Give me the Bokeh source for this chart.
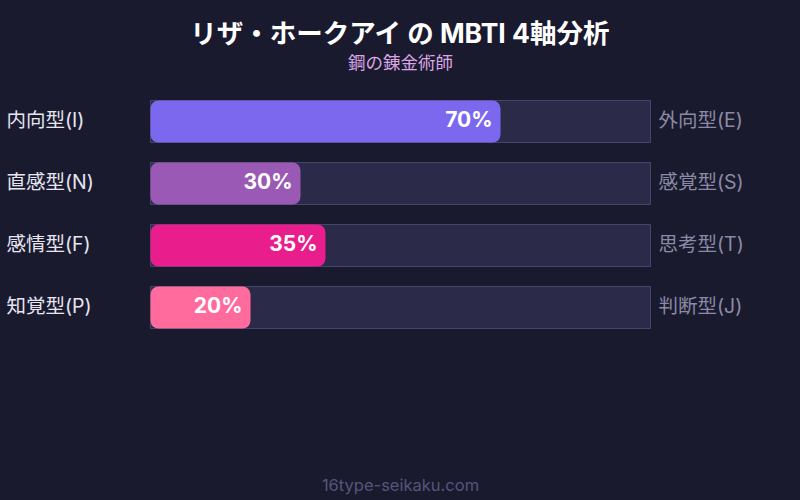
from bokeh.plotting import figure
from bokeh.models import Range1d, ColumnDataSource, Label
from bokeh.core.properties import value
from bokeh.embed import file_html
from bokeh.resources import INLINE

# ---- data ----
left_labels = ["内向型(I)", "直感型(N)", "感情型(F)", "知覚型(P)"]
right_labels = ["外向型(E)", "感覚型(S)", "思考型(T)", "判断型(J)"]
values = [70, 30, 35, 20]
bar_colors = ["#7b68ee", "#9b59b6", "#e91e8c", "#ff6b9d"]
title_text = "リザ・ホークアイ の MBTI 4軸分析"
subtitle_text = "鋼の錬金術師"
footer_text = "16type-seikaku.com"

BG = "#1a1a2e"
FONT = "Inter, 'Noto Sans CJK JP', sans-serif"

rows = list(range(len(values)))
W, H = 800, 500
# x: percent units, 5 px per percent, 0% at page x=150
x0 = (0 - 150) / 5.0
x1 = x0 + W / 5.0
# y: row units, 62 px per row, row 0 centre at page y=121
y_top = (0 - 121) / 62.0
y_bot = y_top + H / 62.0

p = figure(width=W, height=H, output_backend="svg", toolbar_location=None,
           x_range=Range1d(x0, x1), y_range=Range1d(y_bot, y_top),
           min_border=0, background_fill_color=BG, border_fill_color=BG,
           outline_line_color=None)
p.axis.visible = False
p.grid.visible = False

src = ColumnDataSource(dict(
    y=rows, v=values, color=bar_colors,
    full=[100] * len(values),
    left=left_labels, right=right_labels,
    pct=[f"{v}%" for v in values],
))

bh = 42 / 62.0
# track
p.hbar(y="y", left=0, right="full", height=bh, source=src,
       fill_color="#2b2a48", line_color="#45446a", line_width=1)
# value bars
p.hbar(y="y", left=0, right="v", height=bh, source=src,
       fill_color="color", line_color=None, border_radius=8)

# percent labels
p.text(x="v", y="y", text="pct", source=src, x_offset=-8, y_offset=-2,
       text_align="right", text_baseline="middle", text_color="#ffffff",
       text_font=value(FONT), text_font_size="21px", text_font_style="bold")

# left labels
p.text(x=(6 - 150) / 5.0, y="y", text="left", source=src, y_offset=-2,
       text_align="left", text_baseline="middle", text_color="#e6e6f2",
       text_font=value(FONT), text_font_size="19.5px")
# right labels
p.text(x=101.6, y="y", text="right", source=src, y_offset=-2,
       text_align="left", text_baseline="middle", text_color="#8a8aa6",
       text_font=value(FONT), text_font_size="19.5px")

mid = 50
p.add_layout(Label(x=mid, y=(32 - 121) / 62.0, text=title_text,
                   text_align="center", text_baseline="middle",
                   text_color="#ffffff", text_font=FONT,
                   text_font_size="26.5px", text_font_style="bold"))
p.add_layout(Label(x=mid, y=(62 - 121) / 62.0, text=subtitle_text,
                   text_align="center", text_baseline="middle",
                   text_color="#d9a6e6", text_font=FONT,
                   text_font_size="17.5px"))
p.add_layout(Label(x=mid, y=(484 - 121) / 62.0, text=footer_text,
                   text_align="center", text_baseline="middle",
                   text_color="#55557a", text_font=FONT,
                   text_font_size="16.5px"))

html = file_html(p, INLINE)
html = html.replace("<head>", "<head><style>html,body{background:%s;}</style>" % BG, 1)
open("out.html", "w").write(html)
